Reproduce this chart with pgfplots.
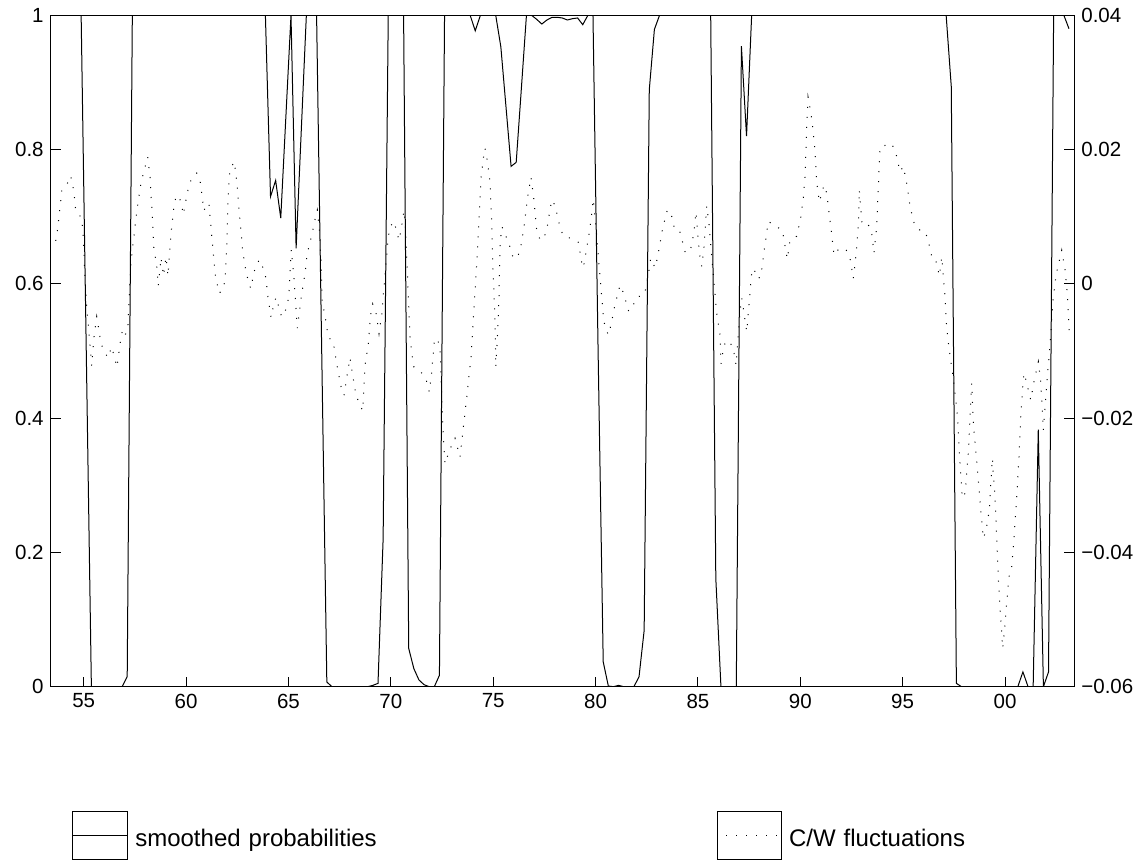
\documentclass[border=0pt]{standalone}
\usepackage{fontspec}
\setmainfont{Liberation Sans}
\usepackage{pgfplots}
\pgfplotsset{compat=1.18}

\pgfplotsset{
  boxlegA/.style={legend image code/.code={
    \draw[black,line width=0.5pt,solid] (0pt,-11.9pt) rectangle (27.8pt,11.9pt);
    \draw[##1] (0pt,0pt) -- (27.8pt,0pt);}},
  boxlegB/.style={legend image code/.code={
    \draw[black,line width=0.5pt,solid] (0pt,-11.9pt) rectangle (32.15pt,11.9pt);
    \draw[##1] (4.5pt,0pt) -- (30.5pt,0pt);}},
}

\begin{document}
\begin{tikzpicture}
% 1px of the reference = 0.5pt here
\pgfplotsset{
  every axis/.append style={
    scale only axis, width=511.8pt, height=335.7pt,
    at={(25.35pt,88.15pt)}, anchor=south west,
    xmin=53.388, xmax=103.385,
    tick align=inside, major tick length=5pt,
    axis line style={line width=0.5pt},
    every tick/.style={black,line width=0.5pt},
    tick label style={font=\fontsize{10.25}{12}\selectfont},
    scaled y ticks=false,
  }
}
\begin{axis}[
  ymin=0, ymax=1,
  xtick={55,60,65,70,75,80,85,90,95,100},
  xticklabels={55,60,65,70,75,80,85,90,95,00},
  ytick={0,0.2,0.4,0.6,0.8,1},
  yticklabels={0,0.2,0.4,0.6,0.8,1},
  xtick pos=left, ytick pos=left,
]
% smoothed probabilities (quarterly)
\addplot[black, line width=0.5pt, mark=none] coordinates {
(53.375,1) (54.875,1) (55.125,0.5) (55.375,0) (56.625,0) (56.875,0)
(57.125,0.015) (57.375,1) (63.875,1) (64.125,0.730) (64.375,0.754)
(64.625,0.698) (64.875,0.849) (65.125,1) (65.375,0.653) (65.625,0.827)
(65.875,1) (66.375,1) (66.625,0.5) (66.875,0.007) (67.125,0) (68.875,0)
(69.125,0.002) (69.375,0.005) (69.625,0.22) (69.875,1) (70.625,1)
(70.875,0.057) (71.125,0.027) (71.375,0.010) (71.625,0.003) (71.875,0)
(72.125,0) (72.375,0.017) (72.625,1) (73.875,1) (74.125,0.977) (74.375,1)
(75.125,1) (75.375,0.953) (75.625,0.864) (75.875,0.775) (76.125,0.781)
(76.375,0.890) (76.625,1) (76.875,1) (77.125,0.994) (77.375,0.987)
(77.625,0.993) (77.875,0.997) (78.125,0.997) (78.375,0.996) (78.625,0.993)
(78.875,0.995) (79.125,0.996) (79.375,0.986) (79.625,1) (79.875,1)
(80.125,0.5) (80.375,0.037) (80.625,0.001) (80.875,0) (81.125,0.002)
(81.375,0) (81.875,0) (82.125,0.015) (82.375,0.084) (82.625,0.889)
(82.875,0.979) (83.125,1) (85.625,1) (85.875,0.161) (86.125,0) (86.875,0)
(87.125,0.954) (87.375,0.820) (87.625,1) (97.125,1) (97.375,0.894)
(97.625,0.005) (97.875,0) (100.625,0) (100.875,0.022) (101.125,0)
(101.375,0) (101.625,0.383) (101.875,0) (102.125,0.022) (102.375,1)
(102.875,1) (103.125,0.98)
};
\end{axis}
\begin{axis}[
  ymin=-0.06, ymax=0.04,
  axis x line=none, axis y line*=right,
  ytick={-0.06,-0.04,-0.02,0,0.02,0.04},
  yticklabels={−0.06,−0.04,−0.02,0,0.02,0.04},
  ytick pos=right, tick align=inside,
  legend columns=2,
  legend cell align=left,
  legend style={at={(axis description cs:0.02052,-0.2216)}, anchor=west,
    draw=none, fill=none, inner sep=0pt, outer sep=0pt, column sep=3.5pt,
    font=\fontsize{12}{14}\selectfont,
    nodes={inner sep=0pt, text width=287.2pt, align=left, yshift=-2pt}},
]
\addlegendimage{black, line width=0.5pt, solid, boxlegA}
\addlegendentry{smoothed probabilities}
% C/W fluctuations
\addplot[black, line width=0.5pt, dash pattern=on 0.5pt off 4.5pt, mark=none,
  boxlegB] coordinates {
(53.632,0.0064) (53.711,0.0079) (53.877,0.0122) (53.891,0.0137) (54.170,0.0147)
(54.355,0.0161) (54.443,0.0152) (54.575,0.0123) (54.609,0.0109) (54.902,0.0098)
(54.980,0.0068) (55.064,0.0008) (55.147,-0.0034) (55.274,-0.0079) (55.391,-0.0122)
(55.503,-0.0079) (55.635,-0.0049) (55.796,-0.0079) (55.909,-0.0094) (56.172,-0.0110)
(56.368,-0.0094) (56.627,-0.0124) (56.822,-0.0079) (56.905,-0.0068) (57.017,-0.0076)
(57.149,-0.0070) (57.310,0.0033) (57.589,0.0107) (57.799,0.0151) (58.126,0.0189)
(58.238,0.0160) (58.351,0.0100) (58.419,0.0055) (58.566,0.0026) (58.644,-0.0003)
(58.776,0.0039) (58.898,0.0012) (59.020,0.0040) (59.118,0.0012) (59.215,0.0055)
(59.298,0.0085) (59.411,0.0116) (59.508,0.0130) (59.655,0.0131) (59.787,0.0117)
(59.865,0.0103) (59.997,0.0125) (60.095,0.0140) (60.241,0.0155) (60.520,0.0165)
(60.681,0.0154) (60.813,0.0124) (60.876,0.0109) (61.023,0.0120) (61.120,0.0119)
(61.203,0.0089) (61.330,0.0046) (61.413,0.0016) (61.609,-0.0014) (61.819,-0.0008)
(61.902,0.0007) (61.985,0.0051) (62.034,0.0111) (62.097,0.0156) (62.146,0.0170)
(62.356,0.0182) (62.473,0.0154) (62.586,0.0109) (62.683,0.0079) (62.766,0.0049)
(62.913,0.0020) (63.025,0.0006) (63.157,-0.0007) (63.255,0.0008) (63.367,0.0023)
(63.577,0.0036) (63.743,0.0025) (63.890,0.0010) (64.002,-0.0020) (64.149,-0.0050)
(64.261,-0.0034) (64.393,-0.0020) (64.671,-0.0049) (64.833,-0.0042) (65.013,-0.0021)
(65.140,0.0051) (65.272,0.0008) (65.433,-0.0066) (65.648,-0.0015) (65.809,0.0015)
(65.907,0.0044) (66.151,0.0074) (66.347,0.0103) (66.410,0.0110) (66.508,0.0080)
(66.591,0.0036) (66.640,-0.0024) (66.821,-0.0054) (66.948,-0.0080) (67.177,-0.0085)
(67.421,-0.0130) (67.602,-0.0158) (67.714,-0.0166) (67.861,-0.0137) (68.007,-0.0110)
(68.154,-0.0139) (68.301,-0.0166) (68.447,-0.0177) (68.628,-0.0189) (68.740,-0.0121)
(68.901,-0.0091) (68.984,-0.0058) (69.033,-0.0043) (69.116,-0.0030) (69.277,-0.0043)
(69.424,-0.0074) (69.556,-0.0046) (69.717,0.0013) (69.878,0.0070) (69.961,0.0085)
(70.157,0.0093) (70.289,0.0078) (70.401,0.0065) (70.499,0.0080) (70.645,0.0109)
(70.694,0.0095) (70.777,0.0040) (70.855,-0.0019) (70.938,-0.0079) (71.051,-0.0109)
(71.134,-0.0124) (71.461,-0.0131) (71.705,-0.0140) (71.881,-0.0161) (71.998,-0.0131)
(72.125,-0.0086) (72.257,-0.0081) (72.404,-0.0094) (72.487,-0.0168) (72.565,-0.0228)
(72.648,-0.0268) (72.809,-0.0253) (72.975,-0.0240) (73.136,-0.0230) (73.380,-0.0258)
(73.542,-0.0214) (73.708,-0.0169) (73.918,-0.0109) (74.064,-0.0036) (74.211,0.0038)
(74.308,0.0098) (74.406,0.0157) (74.519,0.0187) (74.602,0.0202) (74.733,0.0180)
(74.846,0.0151) (74.929,0.0091) (74.978,0.0032) (75.056,-0.0028) (75.105,-0.0074)
(75.124,-0.0124) (75.202,-0.0084) (75.285,-0.0019) (75.334,0.0055) (75.417,0.0085)
(75.530,0.0080) (75.691,0.0065) (75.823,0.0055) (75.984,0.0038) (76.199,0.0040)
(76.345,0.0055) (76.507,0.0085) (76.687,0.0130) (76.848,0.0159) (76.995,0.0124)
(77.127,0.0079) (77.288,0.0066) (77.449,0.0066) (77.615,0.0080) (77.776,0.0110)
(77.860,0.0125) (78.021,0.0117) (78.231,0.0089) (78.397,0.0073) (78.592,0.0069)
(78.836,0.0068) (79.159,0.0062) (79.325,0.0032) (79.403,0.0024) (79.569,0.0053)
(79.730,0.0083) (79.891,0.0126) (80.023,0.0084) (80.136,0.0040) (80.219,0.0011)
(80.302,-0.0019) (80.380,-0.0049) (80.463,-0.0064) (80.624,-0.0076) (80.756,-0.0061)
(80.951,-0.0031) (81.196,-0.0002) (81.357,-0.0013) (81.621,-0.0041) (81.816,-0.0033)
(82.041,-0.0019) (82.304,-0.0018) (82.466,-0.0007) (82.627,0.0023) (82.695,0.0038)
(82.905,0.0024) (83.018,0.0038) (83.281,0.0083) (83.506,0.0110) (83.672,0.0107)
(83.882,0.0079) (84.126,0.0077) (84.371,0.0048) (84.615,0.0047) (84.810,0.0077)
(84.908,0.0107) (85.069,0.0046) (85.186,0.0026) (85.299,0.0055) (85.430,0.0116)
(85.557,0.0085) (85.675,0.0040) (85.802,-0.0004) (85.919,-0.0044) (86.080,-0.0076)
(86.129,-0.0119) (86.275,-0.0091) (86.471,-0.0084) (86.715,-0.0094) (86.862,-0.0121)
(87.057,-0.0043) (87.140,-0.0021) (87.384,-0.0071) (87.545,-0.0013) (87.628,0.0017)
(87.741,0.0023) (87.873,0.0008) (88.068,0.0010) (88.229,0.0048) (88.439,0.0093)
(88.850,0.0085) (89.123,0.0080) (89.367,0.0037) (89.499,0.0065) (89.827,0.0071)
(90.022,0.0099) (90.149,0.0129) (90.232,0.0159) (90.281,0.0203) (90.330,0.0248)
(90.379,0.0278) (90.510,0.0256) (90.637,0.0226) (90.720,0.0196) (90.803,0.0151)
(90.930,0.0122) (91.048,0.0135) (91.160,0.0147) (91.292,0.0135) (91.419,0.0103)
(91.536,0.0073) (91.648,0.0043) (91.907,0.0053) (92.235,0.0051) (92.430,0.0038)
(92.591,0.0008) (92.723,0.0043) (92.835,0.0088) (92.884,0.0140) (93.016,0.0088)
(93.163,0.0088) (93.309,0.0088) (93.456,0.0083) (93.602,0.0046) (93.734,0.0085)
(93.812,0.0145) (93.895,0.0204) (94.223,0.0207) (94.467,0.0209) (94.677,0.0194)
(94.872,0.0167) (95.033,0.0175) (95.229,0.0145) (95.361,0.0115) (95.605,0.0085)
(95.849,0.0080) (96.010,0.0080) (96.206,0.0070) (96.421,0.0041) (96.582,0.0040)
(96.792,0.0012) (96.909,0.0040) (96.987,0.0011) (97.070,-0.0019) (97.153,-0.0066)
(97.266,-0.0096) (97.476,-0.0141) (97.691,-0.0200) (97.754,-0.0245) (97.852,-0.0290)
(97.915,-0.0319) (98.047,-0.0312) (98.130,-0.0282) (98.208,-0.0252) (98.374,-0.0148)
(98.453,-0.0208) (98.668,-0.0282) (98.829,-0.0342) (98.941,-0.0379) (99.073,-0.0367)
(99.234,-0.0337) (99.317,-0.0292) (99.381,-0.0260) (99.513,-0.0319) (99.596,-0.0379)
(99.674,-0.0439) (99.757,-0.0483) (99.889,-0.0543) (100.001,-0.0506) (100.162,-0.0446)
(100.211,-0.0434) (100.328,-0.0421) (100.441,-0.0377) (100.572,-0.0317) (100.685,-0.0257)
(100.768,-0.0198) (100.866,-0.0153) (100.929,-0.0133) (101.061,-0.0148) (101.256,-0.0173)
(101.432,-0.0143) (101.628,-0.0116) (101.745,-0.0146) (101.872,-0.0218) (101.955,-0.0183)
(102.067,-0.0138) (102.199,-0.0091) (102.346,-0.0024) (102.492,0.0013) (102.770,0.0050)
(102.932,0.0021) (103.044,-0.0014) (103.142,-0.0074)
};
\addlegendentry{C/W fluctuations}
\end{axis}
\pgfresetboundingbox
\path (0pt,0pt) rectangle (573pt,431.5pt);
\end{tikzpicture}
\end{document}
